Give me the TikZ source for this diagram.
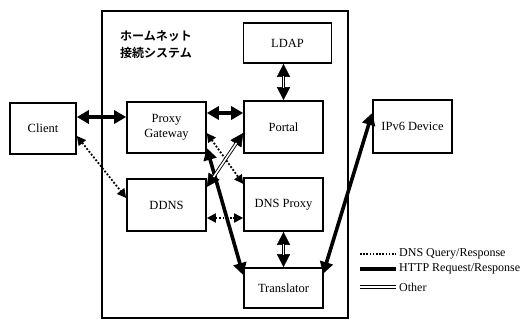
\documentclass[tikz,border=0pt]{standalone}
\usepackage{fontspec}
\setmainfont{Liberation Serif}
\newfontfamily\jpfont{Noto Sans CJK JP Bold}
\usetikzlibrary{arrows.meta,calc}
\begin{document}
\begin{tikzpicture}[x=1pt,y=-1pt,
  box/.style={draw, line width=1.6pt, inner sep=0pt, align=center,
    font=\fontsize{12.5}{15}\selectfont},
  http/.style={line width=3.6pt,
    {Triangle[length=12pt,width=13pt]}-{Triangle[length=12pt,width=13pt]}},
  dnsq/.style={line width=1.8pt, dash pattern=on 1.8pt off 1.8pt,
    {Triangle[length=9pt,width=9pt]}-{Triangle[length=9pt,width=9pt]}},
  otherhead/.style={line width=0.5pt,
    {Triangle[length=13pt,width=13pt]}-{Triangle[length=13pt,width=13pt]}},
  otherline/.style={double, double distance=1.6pt, line width=0.9pt,
    shorten <=12pt, shorten >=12pt},
  legend/.style={anchor=west, inner sep=0pt, font=\fontsize{12}{14}\selectfont}]
\useasboundingbox (0,0) rectangle (528,321);

% system frame
\node[draw, line width=2.2pt, minimum width=246pt, minimum height=307pt, inner sep=0pt] (sys) at (225,164.5) {};
\node[font=\jpfont\fontsize{12}{16.5}\selectfont, align=center, inner sep=0pt] (title) at (156,44.5) {ホームネット\\接続システム};

% boxes
\node[box, minimum width=66pt, minimum height=51pt] (client) at (43,128.5) {Client};
\node[box, minimum width=79pt, minimum height=51pt] (pg) at (166.5,127.5) {Proxy\\Gateway};
\node[box, minimum width=79pt, minimum height=52pt] (portal) at (283.5,127) {Portal};
\node[box, minimum width=88pt, minimum height=40pt] (ldap) at (287.5,43) {LDAP};
\node[box, minimum width=79pt, minimum height=52pt] (ddns) at (166.5,205) {DDNS};
\node[box, minimum width=79pt, minimum height=53pt] (dnsp) at (283.5,204.5) {DNS Proxy};
\node[box, minimum width=79pt, minimum height=40pt] (trans) at (283.5,288) {Translator};
\node[box, minimum width=79pt, minimum height=53pt] (ipv6) at (412.5,126.5) {IPv6 Device};

% HTTP connectors
\draw[http] ([yshift=11.5pt]client.east) -- ([yshift=10.5pt]pg.west);
\draw[http] ([yshift=14.5pt]pg.east) -- ([yshift=14pt]portal.west);
\draw[http] ([yshift=-20.5pt]pg.east) -- ([yshift=13pt]trans.west);
\draw[http] ([xshift=39.5pt,yshift=14pt]trans.center) -- ([yshift=13.5pt]ipv6.west);

% DNS connectors
\draw[dnsq] ([yshift=-7.5pt]client.east) -- ([yshift=7pt]ddns.west);
\draw[dnsq] ([yshift=-5.5pt]pg.east) -- ([yshift=20.5pt]dnsp.west);
\draw[dnsq] ([yshift=-13pt]ddns.east) -- ([yshift=-13.5pt]dnsp.west);

% Other connectors
\draw[otherhead] (ldap.south -| portal.north) -- (portal.north);
\draw[otherline] (ldap.south -| portal.north) -- (portal.north);
\draw[otherhead] (dnsp.south) -- (trans.north);
\draw[otherline] (dnsp.south) -- (trans.north);
\draw[otherhead] ([yshift=18pt]ddns.east) -- ([yshift=-6pt]portal.west);
\draw[otherline] ([yshift=18pt]ddns.east) -- ([yshift=-6pt]portal.west);

% legend
\coordinate (l1a) at (360,254); \coordinate (l1b) at (396,254);
\coordinate (l2a) at (360,269); \coordinate (l2b) at (396,269);
\coordinate (l3a) at (360,287); \coordinate (l3b) at (396,287);
\draw[line width=1.6pt, dash pattern=on 1.6pt off 1.6pt] (l1a) -- (l1b);
\draw[line width=3.6pt] (l2a) -- (l2b);
\draw[double, double distance=1.6pt, line width=0.9pt] (l3a) -- (l3b);
\node[legend] (t1) at (399,254) {DNS Query/Response};
\node[legend] (t2) at (399,269) {HTTP Request/Response};
\node[legend] (t3) at (399,287) {Other};
\end{tikzpicture}
\end{document}
